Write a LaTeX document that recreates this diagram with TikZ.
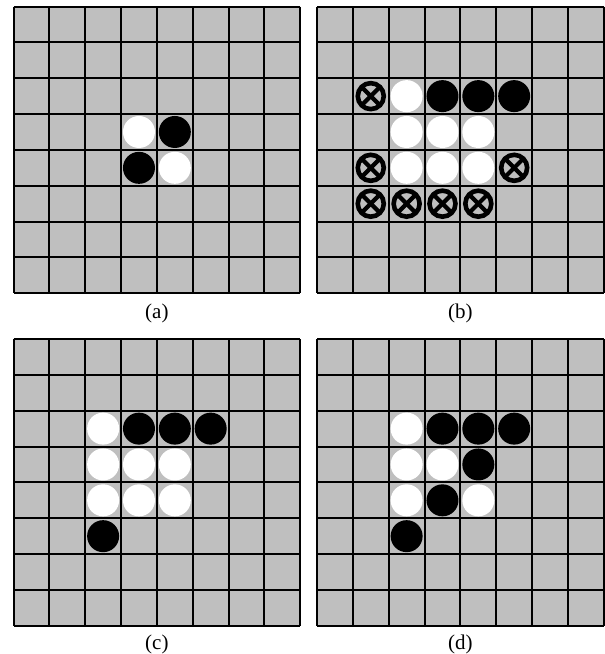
\documentclass[tikz,border=0pt]{standalone}
\usepackage{fontspec}
\setmainfont{Liberation Serif}
\definecolor{boardgray}{RGB}{191,191,191}
\tikzset{
  boardfill/.style={fill=boardgray},
  gridline/.style={line width=2pt, draw=black},
  wstonestyle/.style={fill=white},
  bstonestyle/.style={fill=black},
  xringstyle/.style={draw=black, line width=4.6pt},
  xcrossstyle/.style={draw=black, line width=4.2pt},
  caption/.style={font=\fontsize{21}{24}\selectfont, inner sep=0pt},
}
\newcommand\drawboard{%
  \fill[boardfill] (0,0) rectangle (8,8);
  \foreach \i in {0,...,8} {
    \draw[gridline] (\i,0) -- (\i,8);
    \draw[gridline] (0,\i) -- (8,\i);
  }}
\newcommand\wst[2]{\fill[wstonestyle] (#1+0.5,#2+0.5) circle[radius=16pt];}
\newcommand\bst[2]{\fill[bstonestyle] (#1+0.5,#2+0.5) circle[radius=16pt];}
\newcommand\xst[2]{%
  \draw[xringstyle] (#1+0.5,#2+0.5) circle[radius=13pt];
  \begin{scope}
    \clip (#1+0.5,#2+0.5) circle[radius=13pt];
    \draw[xcrossstyle] ([shift={(-10pt,-10pt)}]#1+0.5,#2+0.5) -- ([shift={(10pt,10pt)}]#1+0.5,#2+0.5);
    \draw[xcrossstyle] ([shift={(-10pt,10pt)}]#1+0.5,#2+0.5) -- ([shift={(10pt,-10pt)}]#1+0.5,#2+0.5);
  \end{scope}}
\begin{document}
\begin{tikzpicture}[x=1pt,y=-1pt]
\useasboundingbox (0,0) rectangle (605,654);
% (a)
\begin{scope}[xshift=13.5pt, yshift=-6.5pt, x=35.85pt, y=-35.85pt]
  \drawboard
  \wst{3}{3}\bst{4}{3}\bst{3}{4}\wst{4}{4}
\end{scope}
% (b)
\begin{scope}[xshift=317pt, yshift=-6.5pt, x=35.85pt, y=-35.85pt]
  \drawboard
  \xst{1}{2}\wst{2}{2}\bst{3}{2}\bst{4}{2}\bst{5}{2}
  \wst{2}{3}\wst{3}{3}\wst{4}{3}
  \xst{1}{4}\wst{2}{4}\wst{3}{4}\wst{4}{4}\xst{5}{4}
  \xst{1}{5}\xst{2}{5}\xst{3}{5}\xst{4}{5}
\end{scope}
% (c)
\begin{scope}[xshift=13.5pt, yshift=-339pt, x=35.85pt, y=-35.85pt]
  \drawboard
  \wst{2}{2}\bst{3}{2}\bst{4}{2}\bst{5}{2}
  \wst{2}{3}\wst{3}{3}\wst{4}{3}
  \wst{2}{4}\wst{3}{4}\wst{4}{4}
  \bst{2}{5}
\end{scope}
% (d)
\begin{scope}[xshift=317pt, yshift=-339pt, x=35.85pt, y=-35.85pt]
  \drawboard
  \wst{2}{2}\bst{3}{2}\bst{4}{2}\bst{5}{2}
  \wst{2}{3}\wst{3}{3}\bst{4}{3}
  \wst{2}{4}\bst{3}{4}\wst{4}{4}
  \bst{2}{5}
\end{scope}
\node[caption] (la) at (156.9,313) {(a)};
\node[caption] (lb) at (460.4,313) {(b)};
\node[caption] (lc) at (156.9,644) {(c)};
\node[caption] (ld) at (460.4,644) {(d)};
\end{tikzpicture}
\end{document}
